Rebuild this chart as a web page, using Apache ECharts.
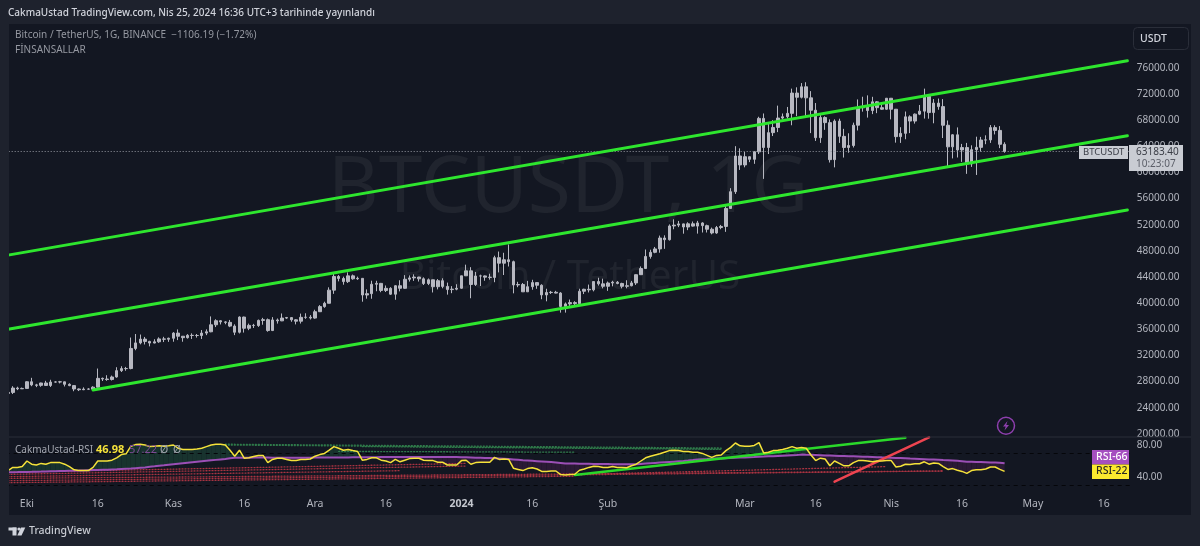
<!DOCTYPE html>
<html>
<head>
<meta charset="utf-8">
<title>BTCUSDT 1G</title>
<script src="https://cdn.jsdelivr.net/npm/echarts@6/dist/echarts.min.js"></script>
<style>
    html, body { margin: 0; padding: 0; background: #1e222d; }
    #panel { position: absolute; left: 9px; top: 24px; width: 1182px; height: 491px; background: #131722; }
    #chart { position: absolute; left: 0; top: 0; width: 1200px; height: 546px; }
</style>
</head>
<body>
<div id="panel"></div>
<div id="chart"></div>
<script>
// candles as [open, close, low, high]
const sep23 = [
    [26200, 26350, 26100, 26450], [26350, 27020, 26100, 27300], [27020, 26900, 26700, 27220], [26900, 26960, 26880, 27090]
];
const oct23 = [
    [26960, 27980, 26950, 28060], [27980, 27500, 27300, 28580], [27500, 27430, 27160, 27660], [27430, 27790, 27210, 27830],
    [27790, 27410, 27340, 28120], [27410, 27930, 27180, 28280], [27930, 27950, 27860, 28050], [27950, 27970, 27730, 28110],
    [27970, 27590, 27260, 27990], [27590, 27390, 27300, 27740], [27390, 26875, 26530, 27480], [26875, 26760, 26560, 26950],
    [26760, 26860, 26700, 27120], [26860, 26850, 26810, 26990], [26850, 27150, 26810, 27290], [27150, 28500, 27120, 30000],
    [28500, 28400, 28090, 28620], [28400, 28320, 28130, 28980], [28320, 28710, 28170, 28920], [28710, 29680, 28600, 30200],
    [29680, 29990, 29470, 30350], [29990, 30000, 29660, 30250], [30000, 33070, 29880, 34740], [33070, 33920, 32800, 35280],
    [33920, 34500, 33700, 35200], [34500, 34150, 33680, 34830], [34150, 33900, 33390, 34240], [33900, 34090, 33860, 34480],
    [34090, 34530, 33930, 34770], [34530, 34480, 34050, 34850], [34480, 34630, 34080, 34720]
];
const nov23 = [
    [34630, 35420, 34100, 35570], [35420, 34940, 34350, 35980], [34940, 34720, 34100, 34950], [34720, 35080, 34580, 35260],
    [35080, 35050, 34520, 35380], [35050, 35050, 34730, 35280], [35050, 35420, 34520, 35890], [35420, 35620, 35110, 35990],
    [35620, 36690, 35550, 37970], [36690, 37310, 36340, 37530], [37310, 37130, 36740, 37400], [37130, 37060, 36770, 37230],
    [37060, 36490, 36330, 37430], [36490, 35550, 35110, 36760], [35550, 37870, 35360, 37980], [37870, 36160, 35500, 37930],
    [36160, 36600, 35870, 36870], [36600, 36570, 36200, 36830], [36570, 37360, 36370, 37490], [37360, 37470, 36700, 37750],
    [37470, 35810, 35630, 37650], [35810, 37430, 35730, 37860], [37430, 37290, 36870, 37650], [37290, 37720, 37250, 38420],
    [37720, 37790, 37600, 37890], [37790, 37450, 37150, 37840], [37450, 37240, 36750, 37560], [37240, 37830, 36880, 38400],
    [37830, 37850, 37600, 38450], [37850, 37720, 37500, 38170]
];
const dec23 = [
    [37720, 38690, 37620, 38990], [38690, 39470, 38650, 39700], [39470, 39980, 39290, 40220], [39980, 41990, 39980, 42420],
    [41990, 44080, 41420, 44490], [44080, 43770, 43330, 44300], [43770, 43290, 42820, 44050], [43290, 44170, 43080, 44700],
    [44170, 43720, 43580, 44370], [43720, 43790, 43560, 44050], [43790, 41240, 40220, 43800], [41240, 41450, 40680, 42100],
    [41450, 42890, 40670, 43430], [42890, 43020, 41820, 43420], [43020, 41940, 41670, 43090], [41940, 42260, 41700, 42700],
    [42260, 41370, 41250, 42440], [41370, 42660, 40520, 42760], [42660, 42270, 41800, 43500], [42270, 43650, 42200, 44280],
    [43650, 43860, 43300, 44240], [43860, 43990, 43400, 44400], [43990, 43720, 43300, 44020], [43720, 43000, 42770, 43940],
    [43000, 43570, 42760, 43770], [43570, 42510, 41630, 43600], [42510, 43430, 42100, 43680], [43430, 42560, 42270, 43800],
    [42560, 42070, 41300, 43140], [42070, 42140, 41520, 42600], [42140, 42280, 41970, 42890]
];
const jan24 = [
    [42280, 44180, 42180, 44180], [44180, 44940, 44150, 45880], [44940, 42850, 40750, 45500], [42850, 44150, 42630, 44770],
    [44150, 44160, 42620, 44350], [44160, 43970, 43420, 44230], [43970, 43930, 43600, 44500], [43930, 46950, 43200, 47250],
    [46950, 46110, 44700, 47890], [46110, 46630, 44300, 47700], [46630, 46340, 45600, 48970], [46340, 42780, 41500, 46500],
    [42780, 42850, 42440, 43260], [42850, 41730, 41720, 43080], [41730, 42510, 41720, 43400], [42510, 43140, 42050, 43570],
    [43140, 42740, 42190, 43200], [42740, 41260, 40600, 42880], [41260, 41620, 40280, 42200], [41620, 41660, 41400, 41870],
    [41660, 41540, 41500, 41880], [41540, 39500, 38550, 41680], [39500, 39880, 38550, 40100], [39880, 40080, 39480, 40550],
    [40080, 39930, 39560, 40290], [39930, 41820, 39820, 42200], [41820, 42120, 41390, 42200], [42120, 42030, 41630, 42840],
    [42030, 43300, 41800, 43300], [43300, 42950, 42680, 43880], [42950, 42580, 42260, 43740]
];
const feb24 = [
    [42580, 43080, 41880, 43300], [43080, 43200, 42570, 43420], [43200, 43010, 42880, 43380], [43010, 42580, 42260, 43120],
    [42580, 42660, 42260, 43500], [42660, 43090, 42570, 43400], [43090, 44350, 42780, 44380], [44350, 45290, 44320, 45610],
    [45290, 47140, 45240, 48200], [47140, 47770, 46800, 48170], [47770, 48290, 47630, 48590], [48290, 49960, 47710, 50330],
    [49960, 49700, 48300, 50370], [49700, 51800, 49570, 52040], [51800, 51930, 51300, 52820], [51930, 52120, 51620, 52570],
    [52120, 51640, 50620, 52160], [51640, 52130, 51160, 52370], [52130, 51780, 51700, 52480], [51780, 52260, 50630, 52580],
    [52260, 51850, 50800, 52370], [51850, 51300, 50800, 52000], [51300, 50730, 50520, 51550], [50730, 51560, 50600, 51800],
    [51560, 51730, 51300, 51960], [51730, 54480, 50900, 54900], [54480, 57040, 54450, 57580], [57040, 62500, 56700, 64000],
    [62500, 61130, 60370, 63670]
];
const mar24 = [
    [61130, 62390, 60770, 63110], [62390, 61990, 61560, 62430], [61990, 63130, 61300, 63230], [63130, 68250, 62800, 68500],
    [68250, 63800, 59000, 69000], [63800, 66070, 62800, 67630], [66070, 66860, 65550, 67980], [66860, 68300, 66150, 70200],
    [68300, 68500, 68100, 69000], [68500, 69020, 68200, 70000], [69020, 72120, 67200, 72800], [72120, 71480, 68600, 73000],
    [71480, 73080, 71300, 73650], [73080, 71390, 68500, 73780], [71390, 69500, 66000, 72420], [69500, 65300, 64800, 70600],
    [65300, 68390, 64500, 68900], [68390, 67600, 66500, 68570], [67600, 61940, 61500, 68100], [61940, 67840, 60760, 68100],
    [67840, 65500, 64500, 68200], [65500, 63800, 62260, 66650], [63800, 64100, 63000, 65970], [64100, 67210, 63800, 67600],
    [67210, 69880, 66400, 71150], [69880, 69990, 69280, 71560], [69990, 69450, 68370, 71770], [69450, 70780, 68900, 71550],
    [70780, 69890, 69050, 70900], [69890, 69650, 69560, 70350], [69650, 71330, 69560, 71370]
];
const apr24 = [
    [71330, 69650, 68100, 71350], [69650, 65460, 64540, 69680], [65460, 65960, 64500, 66900], [65960, 68490, 65060, 69300],
    [68490, 67840, 66000, 68720], [67840, 68900, 67450, 69000], [68900, 69360, 68750, 70300], [69360, 71620, 68220, 72800],
    [71620, 69140, 68200, 71760], [69140, 70590, 67500, 71200], [70590, 70050, 69570, 71280], [70050, 67200, 65250, 71200],
    [67200, 63900, 60660, 67930], [63900, 65740, 62130, 65840], [65740, 63420, 62270, 66870], [63420, 63790, 61600, 64350],
    [63790, 61280, 59770, 64500], [61280, 63470, 60830, 64130], [63470, 63820, 59600, 65450], [63820, 64940, 63170, 65420],
    [64940, 64960, 64300, 65660], [64960, 66840, 64500, 67230], [66840, 66410, 65800, 67200], [66410, 64290, 63700, 67070],
    [64290, 63183.4, 63000, 64600]
];

// RSI and its moving average, one value per day
const rsiValues = [
    48, 52, 52, 53, 60, 56, 55, 57, 56, 58,
    58, 58, 56, 53, 49, 48, 48, 48, 52, 60,
    60, 60, 61, 64, 68, 69, 78.5, 80.5, 81, 80,
    78, 78.5, 79, 78.5, 79, 80, 76, 74.5, 74.5, 74.5,
    75, 76, 78, 80, 81, 81, 80, 73.5, 66, 73.5,
    63.5, 64, 65.5, 67, 67, 58, 62, 63.5, 63.5, 62,
    60.5, 60.5, 62, 62, 62.5, 66, 68, 69.5, 73.5, 78,
    76, 73.5, 74.5, 73, 72, 61, 62, 64, 64, 61,
    60, 58, 62, 59, 61, 63, 63.5, 63.5, 61, 60.5,
    60.5, 58.5, 58.5, 55, 55, 55, 60.5, 61, 56, 58,
    58.5, 58.5, 58.5, 64.5, 62, 62.5, 62, 51, 49.5, 48,
    50.5, 51.5, 50, 47, 47, 47.5, 47.5, 43, 42.5, 43,
    43.5, 48.5, 50, 52, 53.5, 53, 52, 52, 53, 52,
    52, 51.5, 54, 56, 60, 64, 66, 67.5, 69, 71,
    73, 73.5, 73, 72, 72, 71, 71, 69.5, 67, 64.5,
    67, 67.5, 73, 77, 82.5, 79, 78.5, 78.5, 79.5, 83,
    70, 71, 73, 73.5, 74.5, 76, 78, 76, 77, 76,
    67.5, 60.5, 63.5, 62.5, 54, 60, 57, 54, 54, 58,
    60.5, 60.5, 60, 59, 60, 60, 60.5, 60.5, 52.5, 53.5,
    56, 55.5, 56.5, 56.5, 59, 56, 57.5, 57, 53, 49.5,
    50.5, 48.5, 47, 44.5, 48, 49, 49, 50, 52.5, 52.5,
    49.5, 46.98
];
const rsiMaValues = [
    45.8, 46, 46.1, 46.3, 46.4, 46.5, 46.7, 46.8, 47, 47.1, 47.2, 47.4, 47.5, 47.7, 47.9,
    48, 48.2, 48.4, 48.6, 48.8, 49, 49.2, 49.4, 49.6, 49.9, 50.2, 50.5, 51, 51.5,
    52, 52.7, 53.3, 54, 54.6, 55.3, 56,
    56.6, 57.2, 57.8, 58.4, 59, 59.6, 60.2, 60.8, 61.4, 62, 62.6, 63.3, 64,
    64.1, 64.2, 64.2, 64.3, 64.3, 64.3, 64.3, 64.2, 64.2, 64.2, 64.2, 64.2, 64.2, 64.2, 64.2, 64.2,
    64.3, 64.3, 64.3, 64.4, 64.4, 64.4, 64.5, 64.5, 64.6, 64.6, 64.7, 64.7, 64.8, 64.8, 64.9, 64.9, 65, 65, 65,
    65, 65, 65, 65, 65, 65, 65, 65, 65, 65, 64.9, 64.9, 64.8, 64.6,
    64.4, 64.2, 64, 63.8, 63.6, 63.4, 63.1, 62.8, 62.5,
    62, 61.5, 61, 60.6, 60.2, 59.8, 59.4, 59, 58.6, 58.2, 57.6, 57,
    56.9, 56.8, 56.7, 56.6, 56.5, 56.4, 56.3, 56.2, 56.1, 56, 55.9, 55.9, 55.8, 55.8,
    56, 56.4, 56.8, 57.2, 57.6, 58, 58.4, 58.8, 59.2, 59.6, 60, 60.5, 61.2, 62,
    62.3, 62.5, 62.8, 63, 63.2, 63.5, 63.7, 64, 64.3, 64.5, 64.8, 65, 65.3, 65.5, 65.8, 66, 66.3, 66.6, 66.9, 67.2, 67.5,
    68, 67.9, 67.7, 67.5, 67.3, 67, 66.8, 66.6, 66.4, 66.2, 66, 65.8, 65.6, 65.4, 65.2, 65, 64.8, 64.6, 64.5,
    64.2, 63.9, 63.7, 63.4, 63.1, 62.9, 62.6, 62.3, 62, 61.8, 61.5, 61.2, 61, 60.6, 60.2, 59.8, 59.2,
    59, 58.8, 58.6, 58.4, 58.2, 58, 57.8, 57.22
];

// drawn lines as [day index, value]
const channelTop = [[0, 47345], [237, 77055]];
const channelMid = [[0, 36015], [237, 65587]];
const channelLow = [[18, 26719], [237, 54242]];
const rsiTrendUp = [[120, 42.5], [190, 89.2]];
const rsiTrendRed = [[175, 34.2], [195, 89.6]];
const rsiDottedRed = [
    [[0, 45.8], [97, 57]],
    [[0, 43.3], [97, 53.7]],
    [[0, 40.4], [83, 47.9]],
    [[0, 38.3], [198, 47.5]],
    [[0, 35.4], [198, 47.5]],
    [[0, 32.9], [120, 41]],
    [[120, 43], [186, 53]]
];
const rsiDottedGreen = [
    [[46, 81], [151, 76.2]],
    [[46, 80], [151, 75.2]],
    [[75, 78], [151, 74.5]],
    [[70, 72], [120, 71]]
];

const priceTicks = [76000, 72000, 68000, 64000, 60000, 56000, 52000, 48000, 44000, 40000, 36000, 32000, 28000, 24000, 20000];
const rsiTicks = [80, 40];
const rsiBands = [70, 30];
const lastPrice = 63183.4;
const timeTickDates = ['2023-10-01', '2023-10-16', '2023-11-01', '2023-11-16', '2023-12-01', '2023-12-16', '2024-01-01', '2024-01-16', '2024-02-01', '2024-03-01', '2024-03-16', '2024-04-01', '2024-04-16', '2024-05-01', '2024-05-16'];
const timeTickLabels = ['Eki', '16', 'Kas', '16', 'Ara', '16', '2024', '16', 'Şub', 'Mar', '16', 'Nis', '16', 'May', '16'];

const FONT = '"Noto Sans", sans-serif';
const GRAY = '#b2b5be';
const CANDLE = '#b7b8c1';
const LIME = '#2ee62e';

// every calendar day on the axis
const dayCategories = [];
for (let i = 0; i < 238; i++) {
    dayCategories.push(new Date(Date.UTC(2023, 8, 27 + i)).toISOString().slice(0, 10));
}
const candles = [].concat(sep23, oct23, nov23, dec23, jan24, feb24, mar24, apr24);

function txt(x, y, text, size, fill, extra) {
    return {
        type: 'text',
        z: 50,
        style: Object.assign({ x: x, y: y, text: text, fontSize: size, fontFamily: FONT, fill: fill, verticalAlign: 'middle' }, extra || {})
    };
}

function box(x, y, w, h, fill, z) {
    return { type: 'rect', z: z || 40, shape: { x: x, y: y, width: w, height: h }, style: { fill: fill } };
}

function straight(name, points, color, width, gridIndex, dash) {
    return {
        name: name,
        type: 'line',
        xAxisIndex: gridIndex,
        yAxisIndex: gridIndex,
        data: points,
        showSymbol: false,
        silent: true,
        z: dash ? 3 : 6,
        lineStyle: { color: color, width: width, type: dash ? [1, 2] : 'solid', cap: 'round' }
    };
}

// green above the average, purple below, split where the two cross
function renderRsiFill(params, api) {
    const i = params.dataIndex;
    if (i >= rsiValues.length - 1) return null;
    const r0 = rsiValues[i], r1 = rsiValues[i + 1], m0 = rsiMaValues[i], m1 = rsiMaValues[i + 1];
    const d0 = r0 - m0, d1 = r1 - m1;
    const poly = function (pts, up) {
        return { type: 'polygon', shape: { points: pts.map(function (p) { return api.coord(p); }) }, style: { fill: up ? '#18332e' : '#2b1a35' } };
    };
    if (d0 * d1 >= 0) {
        return poly([[i, r0], [i + 1, r1], [i + 1, m1], [i, m0]], d0 + d1 > 0);
    }
    const t = d0 / (d0 - d1);
    const cross = [i + t, r0 + (r1 - r0) * t];
    return {
        type: 'group',
        children: [
            poly([[i, r0], cross, [i, m0]], d0 > 0),
            poly([cross, [i + 1, r1], [i + 1, m1]], d1 > 0)
        ]
    };
}

const seriesList = [
    {
        type: 'candlestick',
        xAxisIndex: 0,
        yAxisIndex: 0,
        data: candles,
        barWidth: 3,
        silent: true,
        z: 4,
        itemStyle: { color: CANDLE, color0: CANDLE, borderColor: CANDLE, borderColor0: CANDLE, borderWidth: 1 },
        markLine: {
            silent: true,
            symbol: 'none',
            label: { show: false },
            lineStyle: { color: '#9598a1', width: 1, type: [1, 2] },
            data: [{ yAxis: lastPrice }]
        }
    },
    straight('channelTop', channelTop, LIME, 3, 0),
    straight('channelMid', channelMid, LIME, 3, 0),
    straight('channelLow', channelLow, LIME, 3, 0),
    {
        type: 'custom',
        xAxisIndex: 1,
        yAxisIndex: 1,
        data: rsiValues.map(function (v, i) { return [i, v]; }),
        renderItem: renderRsiFill,
        silent: true,
        clip: true,
        z: 2
    }
];
rsiDottedRed.forEach(function (line, i) {
    seriesList.push(straight('dotRed' + i, line, '#a83341', 1.3, 1, true));
});
rsiDottedGreen.forEach(function (line, i) {
    seriesList.push(straight('dotGreen' + i, line, '#2f7a4a', 1.3, 1, true));
});
seriesList.push({
    name: 'rsiMa',
    type: 'line',
    xAxisIndex: 1,
    yAxisIndex: 1,
    data: rsiMaValues,
    showSymbol: false,
    silent: true,
    z: 5,
    lineStyle: { color: '#9b4fb5', width: 2 }
});
seriesList.push(straight('rsiTrendUp', rsiTrendUp, '#2ad82a', 2.5, 1));
seriesList.push(straight('rsiTrendRed', rsiTrendRed, '#ee4450', 2.5, 1));
seriesList.push({
    name: 'rsi',
    type: 'line',
    xAxisIndex: 1,
    yAxisIndex: 1,
    data: rsiValues,
    showSymbol: false,
    silent: true,
    z: 7,
    lineStyle: { color: '#f5e23a', width: 1.5 },
    markLine: {
        silent: true,
        symbol: 'none',
        label: { show: false },
        lineStyle: { color: '#05060a', width: 1, type: [4, 4] },
        data: rsiBands.map(function (v) { return { yAxis: v }; })
    }
});

const chart = echarts.init(document.getElementById('chart'));
chart.setOption({
    animation: false,
    backgroundColor: 'transparent',
    grid: [
        { left: 5.68, top: 24, width: 1124.07, height: 413 },
        { left: 5.68, top: 437, width: 1124.07, height: 52 }
    ],
    xAxis: [
        {
            type: 'category',
            gridIndex: 0,
            data: dayCategories,
            axisLine: { show: false },
            axisTick: { show: false },
            axisLabel: { show: false }
        },
        {
            type: 'category',
            gridIndex: 1,
            data: dayCategories,
            axisLine: { show: false },
            axisTick: { show: false },
            axisLabel: {
                color: GRAY,
                fontFamily: FONT,
                fontSize: 10.5,
                margin: 10,
                interval: function (i, value) { return timeTickDates.indexOf(value) >= 0; },
                formatter: function (value) {
                    const label = timeTickLabels[timeTickDates.indexOf(value)];
                    return label === '2024' ? '{year|2024}' : label;
                },
                rich: { year: { color: '#c3c6cd', fontFamily: FONT, fontSize: 10.5, fontWeight: 'bold' } }
            }
        }
    ],
    yAxis: [
        {
            type: 'value',
            gridIndex: 0,
            position: 'right',
            min: 19532,
            max: 82682,
            axisLine: { show: false },
            axisTick: { show: false },
            splitLine: { show: false },
            axisLabel: {
                customValues: priceTicks,
                color: GRAY,
                fontFamily: FONT,
                fontSize: 10,
                margin: 7,
                formatter: function (v) { return v.toFixed(2); }
            }
        },
        {
            type: 'value',
            gridIndex: 1,
            position: 'right',
            min: 25,
            max: 90,
            axisLine: { show: false },
            axisTick: { show: false },
            splitLine: { show: false },
            axisLabel: {
                customValues: rsiTicks,
                color: GRAY,
                fontFamily: FONT,
                fontSize: 10,
                margin: 7,
                formatter: function (v) { return v.toFixed(2); }
            }
        }
    ],
    series: seriesList,
    graphic: [
        // watermark sits under the candles
        { type: 'text', z: 0, style: { x: 568, y: 190, text: 'BTCUSDT, 1G', fontSize: 78.5, fontFamily: FONT, fill: '#20242e', align: 'center', verticalAlign: 'middle' } },
        { type: 'text', z: 0, style: { x: 570, y: 277, text: 'Bitcoin / TetherUS', fontSize: 40.5, fontFamily: FONT, fill: '#20242e', align: 'center', verticalAlign: 'middle' } },

        // frame
        box(0, 24, 9, 491, '#1e222d', 30),
        box(9, 436.5, 1182, 1, '#2a2e39', 30),

        // header and legends
        txt(8, 13, 'CakmaUstad TradingView.com, Nis 25, 2024 16:36 UTC+3 tarihinde yayınlandı', 10, '#d1d4dc', { fontWeight: 500 }),
        txt(15, 35, 'Bitcoin / TetherUS, 1G, BINANCE  −1106.19 (−1.72%)', 10, '#9598a1'),
        txt(15, 50, 'FİNSANSALLAR', 10, '#9598a1'),
        txt(15, 450, 'CakmaUstad-RSI', 10, '#a3a6af'),
        txt(96, 450, '46.98', 11, '#f5e23a', { fontWeight: 'bold' }),
        txt(129, 450, '57.22', 11, '#7d4a94'),
        txt(160, 450, 'Ø', 10.5, '#a3a6af'),
        txt(173, 450, 'Ø', 10.5, '#a3a6af'),

        // USDT button
        {
            type: 'rect', z: 40,
            shape: { x: 1133.5, y: 27.5, width: 55, height: 22, r: 4 },
            style: { fill: '#131722', stroke: '#2a2e39', lineWidth: 1 }
        },
        txt(1140, 39, 'USDT', 10.5, '#d1d4dc', { fontWeight: 500 }),

        // last price tags
        box(1079, 146, 49, 13, '#c9ccd3'),
        txt(1083, 152.5, 'BTCUSDT', 9.5, '#3a3d46'),
        box(1129, 145, 54, 26, '#c9ccd3'),
        txt(1136, 152.5, '63183.40', 10, '#3a3d46'),
        txt(1136, 164, '10:23:07', 10, '#5b5e68'),

        // RSI tags
        box(1092, 450, 37, 14.5, '#a54fc0'),
        txt(1096, 457, 'RSI-66', 10.5, '#ffffff', { fontWeight: 500 }),
        box(1092, 464.5, 37, 14.5, '#fbe92f'),
        txt(1096, 471.5, 'RSI-22', 10.5, '#2a2a22', { fontWeight: 500 }),

        // lightning badge
        { type: 'circle', z: 40, shape: { cx: 1006, cy: 425.7, r: 8.5 }, style: { fill: 'transparent', stroke: '#8e3fae', lineWidth: 1.5 } },
        { type: 'polygon', z: 40, shape: { points: [[1007.5, 421], [1003, 426.5], [1005.7, 426.5], [1004.5, 430.5], [1009, 425], [1006.3, 425]] }, style: { fill: '#8e3fae' } },

        // TradingView logo
        box(8.5, 527.5, 8, 3, '#d1d4dc'),
        box(12.5, 527.5, 4, 8, '#d1d4dc'),
        { type: 'circle', z: 40, shape: { cx: 19, cy: 529, r: 1.6 }, style: { fill: '#d1d4dc' } },
        { type: 'polygon', z: 40, shape: { points: [[21, 527.5], [25.3, 527.5], [21.5, 535.5], [17.3, 535.5]] }, style: { fill: '#d1d4dc' } },
        txt(29, 531, 'TradingView', 10.5, '#c9ccd3', { fontWeight: 500 })
    ]
});
</script>
</body>
</html>
